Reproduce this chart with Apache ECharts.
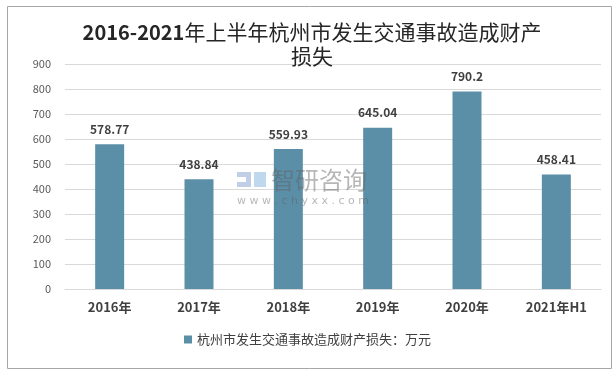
<!DOCTYPE html>
<html>
<head>
<meta charset="utf-8">
<script src="https://cdn.jsdelivr.net/npm/echarts@6/dist/echarts.min.js"></script>
<style>
html, body { margin: 0; padding: 0; background: #fff; }
#main { width: 615px; height: 377px; }
</style>
</head>
<body>
<div id="main"></div>
<script>
// data
var categories = ['2016年', '2017年', '2018年', '2019年', '2020年', '2021年H1'];
var lossValues = [578.77, 438.84, 559.93, 645.04, 790.2, 458.41];
var seriesName = '杭州市发生交通事故造成财产损失：万元';

var chart = echarts.init(document.getElementById('main'));
var wmColor = 'rgba(95,95,95,0.45)';
var option = {
    backgroundColor: '#fff',
    textStyle: {
        fontFamily: 'Noto Sans CJK SC'
    },
    title: {
        text: '{b|2016-2021}{n|年上半年杭州市发生交通事故造成财产}\n{n|损失}',
        left: 307,
        textAlign: 'center',
        top: 15,
        textStyle: {
            rich: {
                b: { color: '#262626', fontSize: 20, fontWeight: 'bold', lineHeight: 24 },
                n: { color: '#262626', fontSize: 21, fontWeight: 'normal', lineHeight: 24 }
            }
        }
    },
    legend: {
        data: [seriesName],
        bottom: 26,
        left: 'center',
        itemWidth: 8,
        itemHeight: 8,
        icon: 'rect',
        textStyle: {
            color: '#404040',
            fontSize: 13
        }
    },
    graphic: [{
        type: 'rect',
        left: 5,
        top: 4,
        shape: { width: 604, height: 362 },
        style: { fill: 'none', stroke: '#a6a6a6', lineWidth: 1 }
    }, {
        type: 'group',
        left: 237,
        top: 172,
        z: 100,
        children: [
            { type: 'rect', shape: { x: 0, y: 0, width: 14, height: 5 }, style: { fill: 'rgba(150,175,215,0.6)' } },
            { type: 'rect', shape: { x: 0, y: 10, width: 14, height: 5 }, style: { fill: 'rgba(150,175,215,0.6)' } },
            { type: 'rect', shape: { x: 9, y: 5, width: 5, height: 5 }, style: { fill: 'rgba(150,175,215,0.6)' } },
            { type: 'rect', shape: { x: 17, y: 0, width: 12, height: 15 }, style: { fill: 'rgba(150,190,225,0.6)' } }
        ]
    }, {
        type: 'text',
        left: 271,
        top: 168,
        z: 100,
        style: {
            text: '智研咨询',
            fill: wmColor,
            font: '24px "Noto Sans CJK SC"'
        }
    }, {
        type: 'text',
        left: 237,
        top: 196,
        z: 100,
        style: {
            text: 'w w w . c h y x x . c o m',
            fill: wmColor,
            font: '11px "DejaVu Sans"'
        }
    }],
    grid: {
        left: 65,
        right: 14,
        top: 64,
        bottom: 88
    },
    xAxis: {
        type: 'category',
        data: categories,
        axisTick: { show: false },
        axisLine: { lineStyle: { color: '#d9d9d9' } },
        axisLabel: {
            color: '#404040',
            fontSize: 13,
            fontWeight: 'bold',
            margin: 12,
            fontFamily: 'Noto Sans CJK SC'
        }
    },
    yAxis: {
        type: 'value',
        min: 0,
        max: 900,
        interval: 100,
        axisLine: { show: false },
        axisTick: { show: false },
        axisLabel: {
            color: '#595959',
            fontSize: 11,
            margin: 14
        },
        splitLine: { lineStyle: { color: '#d9d9d9' } }
    },
    series: [{
        name: seriesName,
        type: 'bar',
        data: lossValues,
        barWidth: 29,
        itemStyle: { color: '#5b8fa8' },
        label: {
            show: true,
            position: 'top',
            distance: 9,
            color: '#404040',
            fontSize: 12,
            fontWeight: 'bold'
        }
    }]
};
chart.setOption(option);
</script>
</body>
</html>
